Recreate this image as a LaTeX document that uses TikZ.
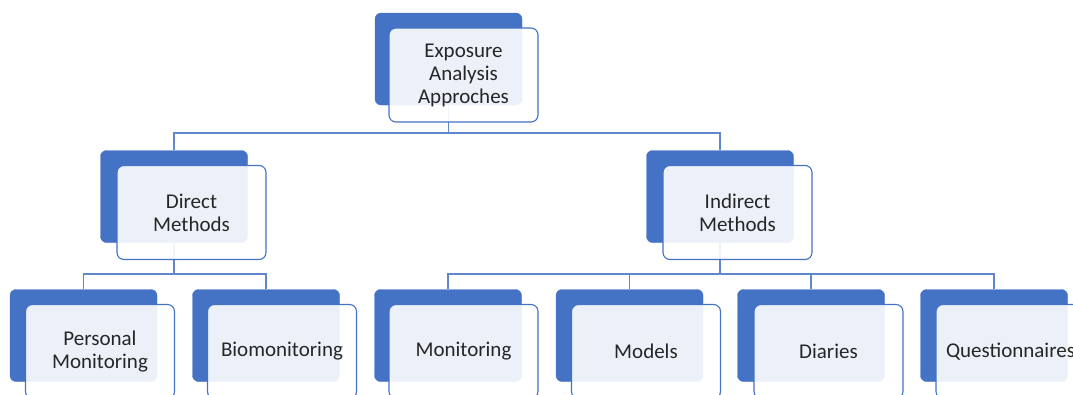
\documentclass[tikz,border=0pt]{standalone}
\usepackage{fontspec}
\setmainfont{Carlito}
\usepackage{tikz}
\definecolor{mblue}{HTML}{4472C4}
\definecolor{mtext}{HTML}{262626}
\tikzset{mback/.style={fill=mblue,draw=mblue,rounded corners=6pt,minimum width=147pt,minimum height=92pt,inner sep=0pt}}
\tikzset{mfront/.style={draw=mblue,line width=1.1pt,fill=white,fill opacity=0.9,text opacity=1,text=mtext,rounded corners=7pt,minimum width=149pt,minimum height=94pt,inner sep=0pt,align=center,font=\fontsize{21}{23}\selectfont}}
\tikzset{mline/.style={draw=mblue!85,line width=1.1pt}}

\begin{document}
\begin{tikzpicture}[x=1pt,y=-1pt]
\useasboundingbox (0,0) rectangle (1073,394);
% back boxes
\node[mback] (topb) at (448.5,59) {};
\node[mback] (dirb) at (174,196.5) {};
\node[mback] (indb) at (720,196.5) {};
\node[mback] (persb) at (83.5,335.5) {};
\node[mback] (biob) at (266,335.5) {};
\node[mback] (monb) at (448,335.5) {};
\node[mback] (modb) at (629.5,335.5) {};
\node[mback] (diab) at (811,335.5) {};
\node[mback] (queb) at (994,335.5) {};

% connectors
\coordinate (topbus) at (448.5,133);
\coordinate (dirbus) at (174,274);
\coordinate (indbus) at (720,274);
\draw[mline] (topb.south) -- (topbus) -| (dirb.north);
\draw[mline] (topbus) -| (indb.north);
\draw[mline] (dirb.south) -- (dirbus) -| (persb.north);
\draw[mline] (dirbus) -| (biob.north);
\draw[mline] (indb.south) -- (indbus) -| (monb.north);
\draw[mline] (indbus) -| (modb.north);
\draw[mline] (indbus) -| (diab.north);
\draw[mline] (indbus) -| (queb.north);

% front boxes
\node[mfront] (topf) at ([shift={(15,16)}]topb.center) {Exposure\\Analysis\\Approches};
\node[mfront] (dirf) at ([shift={(17.5,16)}]dirb.center) {Direct\\Methods};
\node[mfront] (indf) at ([shift={(17.5,16)}]indb.center) {Indirect\\Methods};
\node[mfront] (persf) at ([shift={(16.5,16)}]persb.center) {Personal\\Monitoring};
\node[mfront] (biof) at ([shift={(16,16)}]biob.center) {Biomonitoring};
\node[mfront] (monf) at ([shift={(15.5,16)}]monb.center) {Monitoring};
\node[mfront] (modf) at ([shift={(16.5,16)}]modb.center) {Models};
\node[mfront] (diaf) at ([shift={(17.5,16)}]diab.center) {Diaries};
\node[mfront] (quef) at ([shift={(16.5,16)}]queb.center) {Questionnaires};

\end{tikzpicture}
\end{document}
